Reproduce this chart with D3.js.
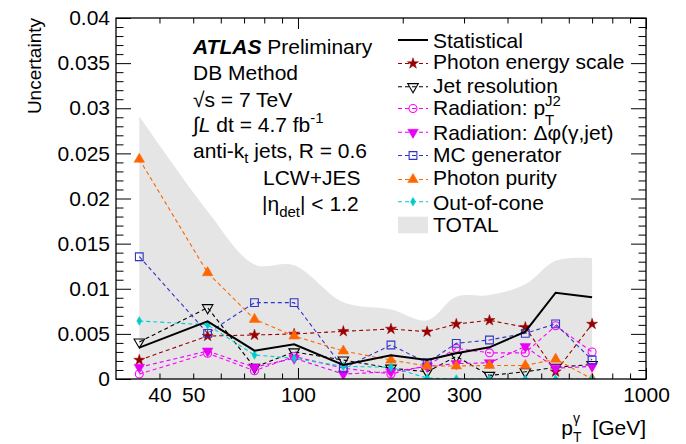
<!DOCTYPE html>
<html><head><meta charset="utf-8">
<script src="https://cdn.jsdelivr.net/npm/d3@7"></script>
<style>
body{margin:0;background:#fff}
svg{display:block}
text{font-family:"Liberation Sans",Arial,Helvetica,sans-serif;fill:#000}
</style>
</head><body>
<svg id="c" width="686" height="444"></svg>
<script>
// ---------------- DATA ----------------
const ptBins = [35, 55, 75, 97.5, 135, 185, 235, 285, 355, 450, 550, 700];
const statistical       = [0.00347, 0.00639, 0.00314, 0.00384, 0.00155, 0.00263, 0.00211, 0.00285, 0.00351, 0.00524, 0.00956, 0.00905];
const photonEnergyScale = [0.0021, 0.00476, 0.00488, 0.00499, 0.00528, 0.00554, 0.00524, 0.00609, 0.0065, 0.00573, 0.00081, 0.00609];
const jetResolution     = [0.0041, 0.0079, 0.0013, 0.0030, 0.0021, 0.0012, 0.0008, 0.0025, 0.0004, 0.0008, 0.0013, 0.0016];
const radiationPtJ2     = [0.00055, 0.00285, 0.00092, 0.0025, 0.0012, 0.00055, 0.0015, 0.0034, 0.0029, 0.0029, 0.0059, 0.0030];
const radiationDPhi     = [0.0013, 0.0031, 0.0013, 0.0023, 0.00055, 0.0008, 0.0014, 0.0017, 0.0018, 0.0036, 0.0012, 0.0014];
const mcGenerator       = [0.01355, 0.00506, 0.00846, 0.00846, 0.0012, 0.00377, 0.0018, 0.00395, 0.00432, 0.00506, 0.0061, 0.0021];
const photonPurity      = [0.02435, 0.01178, 0.00661, 0.00476, 0.0031, 0.0021, 0.00144, 0.00144, 0.0015, 0.0015, 0.0022, 0.0];
const outOfCone         = [0.00643, 0.0060, 0.00266, 0.0023, 0.0014, 0.0013, 0.0001, 0.0, 0.0, 0.0, 0.0, 0.0];
const totalUncertainty  = [0.0291, 0.0186, 0.0127, 0.0126, 0.0085, 0.0077, 0.0065, 0.0091, 0.0093, 0.0105, 0.0131, 0.0134];

const yMajorTicks  = [0, 0.005, 0.01, 0.015, 0.02, 0.025, 0.03, 0.035, 0.04];
const yTickLabels  = ["0", "0.005", "0.01", "0.015", "0.02", "0.025", "0.03", "0.035", "0.04"];
const xMinorTicks  = [40, 50, 60, 70, 80, 90, 200, 300, 400, 500, 600, 700, 800, 900];
const xMajorTicks  = [100, 1000];
const xLabelTicks  = [40, 50, 100, 200, 300, 1000];

const legendLabels = ["Statistical", "Photon energy scale", "Jet resolution", "Radiation: p", "Radiation: Δφ(γ,jet)", "MC generator", "Photon purity", "Out-of-cone", "TOTAL"];

// ---------------- STYLES ----------------
const M = {left: 116, right: 646, top: 18, bottom: 379};
const FONT = 21;

const series = [
  {values: photonEnergyScale, color: "#990000", sym: d3.symbolStar,     size: 38, fill: true,  rot: 0},
  {values: jetResolution,     color: "#000000", sym: d3.symbolTriangle, size: 48, fill: false, rot: 180},
  {values: radiationPtJ2,     color: "#ff00ff", sym: d3.symbolCircle,   size: 50, fill: false, rot: 0},
  {values: radiationDPhi,     color: "#e600f5", sym: d3.symbolTriangle, size: 48, fill: true,  rot: 180},
  {values: mcGenerator,       color: "#3333cc", sym: d3.symbolSquare,   size: 60, fill: false, rot: 0},
  {values: photonPurity,      color: "#ff6600", sym: d3.symbolTriangle, size: 48, fill: true,  rot: 0},
  {values: outOfCone,         color: "#00cccc", sym: d3.symbolDiamond,  size: 22, fill: true,  rot: 0}
];

const svg = d3.select("#c");
const x = d3.scaleLog().domain([30, 1000]).range([M.left, M.right]);
const y = d3.scaleLinear().domain([0, 0.04]).range([M.bottom, M.top]);

svg.append("defs").append("clipPath").attr("id", "clip")
  .append("rect").attr("x", M.left).attr("y", M.top)
  .attr("width", M.right - M.left).attr("height", M.bottom - M.top);

const plot = svg.append("g").attr("clip-path", "url(#clip)");

// TOTAL band
const totalData = ptBins.map((p, i) => ({p, v: totalUncertainty[i]}));
plot.append("path").datum(totalData)
  .attr("fill", "#e5e5e5").attr("stroke", "none")
  .attr("d", d3.area().x(d => x(d.p)).y0(y(0)).y1(d => y(d.v)).curve(d3.curveCatmullRom.alpha(0.5)));

function marker(g, s, cx, cy) {
  g.append("path")
    .attr("d", d3.symbol().type(s.sym).size(s.size)())
    .attr("transform", `translate(${cx},${cy}) rotate(${s.rot})`)
    .attr("fill", s.fill ? s.color : "none")
    .attr("stroke", s.color).attr("stroke-width", s.fill ? 0.5 : 1.1);
}

const line = d3.line().x(d => x(d.p)).y(d => y(d.v));
series.forEach(s => {
  const data = ptBins.map((p, i) => ({p, v: s.values[i]}));
  plot.append("path").datum(data)
    .attr("fill", "none").attr("stroke", s.color).attr("stroke-width", 1.1)
    .attr("stroke-dasharray", "4,3").attr("d", line);
  data.forEach(d => marker(plot, s, x(d.p), y(d.v)));
});

// statistical
plot.append("path").datum(ptBins.map((p, i) => ({p, v: statistical[i]})))
  .attr("fill", "none").attr("stroke", "#000").attr("stroke-width", 2).attr("d", line);

// ---------------- AXES ----------------
svg.append("rect").attr("x", M.left).attr("y", M.top)
  .attr("width", M.right - M.left).attr("height", M.bottom - M.top)
  .attr("fill", "none").attr("stroke", "#000").attr("stroke-width", 1.3);

function styleAxis(g) {
  g.select(".domain").remove();
  g.selectAll(".tick line").attr("stroke", "#000").attr("stroke-width", 1);
  g.selectAll(".tick text").style("font-size", FONT + "px").attr("fill", "#000")
    .style("font-family", '"Liberation Sans",Arial,sans-serif');
}

const yMinor = d3.range(0, 41).map(i => i * 0.001).filter(v => Math.round(v * 1000) % 5 !== 0);
// left
svg.append("g").attr("transform", `translate(${M.left},0)`)
  .call(d3.axisLeft(y).tickValues(yMajorTicks).tickSizeInner(-15).tickSizeOuter(0).tickPadding(6)
    .tickFormat((d, i) => yTickLabels[i])).call(styleAxis);
svg.append("g").attr("transform", `translate(${M.left},0)`)
  .call(d3.axisLeft(y).tickValues(yMinor).tickSizeInner(-7.5).tickSizeOuter(0).tickFormat("")).call(styleAxis);
// right
svg.append("g").attr("transform", `translate(${M.right},0)`)
  .call(d3.axisRight(y).tickValues(yMajorTicks).tickSizeInner(-15).tickSizeOuter(0).tickFormat("")).call(styleAxis);
svg.append("g").attr("transform", `translate(${M.right},0)`)
  .call(d3.axisRight(y).tickValues(yMinor).tickSizeInner(-7.5).tickSizeOuter(0).tickFormat("")).call(styleAxis);
// bottom
svg.append("g").attr("transform", `translate(0,${M.bottom})`)
  .call(d3.axisBottom(x).tickValues(xMajorTicks).tickSizeInner(-11).tickSizeOuter(0).tickFormat("")).call(styleAxis);
svg.append("g").attr("transform", `translate(0,${M.bottom})`)
  .call(d3.axisBottom(x).tickValues(xMinorTicks).tickSizeInner(-5.5).tickSizeOuter(0).tickFormat("")).call(styleAxis);
svg.append("g").attr("transform", `translate(0,${M.bottom})`)
  .call(d3.axisBottom(x).tickValues(xLabelTicks).tickSize(0).tickPadding(8).tickFormat(d3.format("d"))).call(styleAxis);
// top
svg.append("g").attr("transform", `translate(0,${M.top})`)
  .call(d3.axisTop(x).tickValues(xMajorTicks).tickSizeInner(-11).tickSizeOuter(0).tickFormat("")).call(styleAxis);
svg.append("g").attr("transform", `translate(0,${M.top})`)
  .call(d3.axisTop(x).tickValues(xMinorTicks).tickSizeInner(-5.5).tickSizeOuter(0).tickFormat("")).call(styleAxis);

// axis titles
svg.append("text").attr("transform", "translate(41,18) rotate(-90)")
  .attr("text-anchor", "end").style("font-size", "19px").text("Uncertainty");

const xt = svg.append("text").attr("x", 646).attr("y", 435).attr("text-anchor", "end").style("font-size", FONT + "px");
xt.append("tspan").text("p");
xt.append("tspan").attr("dy", -12).style("font-size", "14px").text("γ");
xt.append("tspan").attr("dy", 19).style("font-size", "14px").text("T");
xt.append("tspan").attr("dy", -7).text(" [GeV]");

// ---------------- TEXT BLOCK ----------------
const tb = svg.append("g").style("font-size", FONT + "px");
const t1 = tb.append("text").attr("x", 193).attr("y", 53.5);
t1.append("tspan").style("font-weight", "bold").style("font-style", "italic").text("ATLAS");
t1.append("tspan").text(" Preliminary");
tb.append("text").attr("x", 193).attr("y", 80).text("DB Method");
tb.append("text").attr("x", 193).attr("y", 106.5).text("√s = 7 TeV");
const t4 = tb.append("text").attr("x", 193).attr("y", 132);
t4.append("tspan").text("∫");
t4.append("tspan").style("font-style", "italic").text("L");
t4.append("tspan").text(" dt = 4.7 fb");
t4.append("tspan").attr("dy", -9).style("font-size", "15px").text("-1");
const t5 = tb.append("text").attr("x", 193).attr("y", 157.5);
t5.append("tspan").text("anti-k");
t5.append("tspan").attr("dy", 5).style("font-size", "15px").text("t");
t5.append("tspan").attr("dy", -5).text(" jets, R = 0.6");
tb.append("text").attr("x", 263).attr("y", 184.5).text("LCW+JES");
const t7 = tb.append("text").attr("x", 262).attr("y", 211);
t7.append("tspan").text("|η");
t7.append("tspan").attr("dy", 6).style("font-size", "15px").text("det");
t7.append("tspan").attr("dy", -6).text("| < 1.2");

// ---------------- LEGEND ----------------
const legRows = [40, 63.5, 86.7, 108.5, 132.3, 155.5, 179.5, 201.7, 225];
const legTextY = [48.3, 68.8, 93.3, 115, 139.5, 161.7, 185, 209.5, 232.3];
const lg = svg.append("g");
lg.append("line").attr("x1", 398).attr("x2", 428).attr("y1", legRows[0]).attr("y2", legRows[0])
  .attr("stroke", "#000").attr("stroke-width", 2);
series.forEach((s, i) => {
  const yy = legRows[i + 1];
  lg.append("line").attr("x1", 398).attr("x2", 428).attr("y1", yy).attr("y2", yy)
    .attr("stroke", s.color).attr("stroke-width", 1.1).attr("stroke-dasharray", "4,3");
  marker(lg, s, 413, yy);
});
lg.append("rect").attr("x", 398).attr("y", 216.7).attr("width", 30).attr("height", 16.6).attr("fill", "#e5e5e5");
legendLabels.forEach((l, i) => {
  const t = lg.append("text").attr("x", 433).attr("y", legTextY[i]).style("font-size", FONT + "px").text(l);
  if (i === 3) {
    const sup = t.append("tspan").attr("dy", -9).style("font-size", "15px").text("J2");
    const w = sup.node().getComputedTextLength();
    t.append("tspan").attr("dx", -w).attr("dy", 19).style("font-size", "15px").text("T");
  }
});
// stack the x-title subscript under the superscript and leave a ROOT-like gap
{
  const nodes = xt.selectAll("tspan").nodes();
  const gw = nodes[1].getComputedTextLength();
  d3.select(nodes[2]).attr("dx", -gw);
  const tw = nodes[2].getComputedTextLength();
  d3.select(nodes[3]).attr("dx", Math.max(0, gw - tw) + 5);
}
</script>
</body></html>
